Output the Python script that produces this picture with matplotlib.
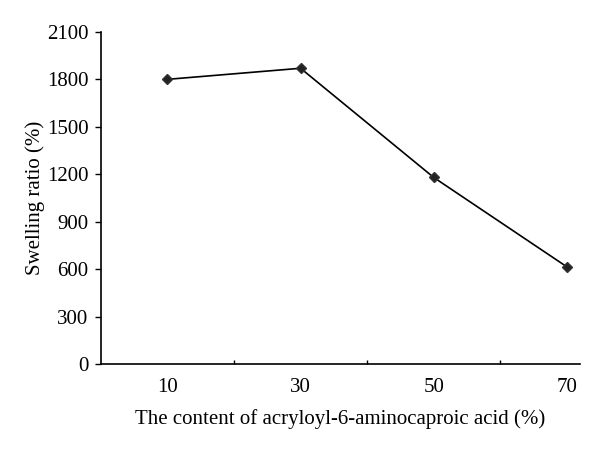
import numpy as np
import matplotlib.pyplot as plt

# Data
contents = ['10', '30', '50', '70']  # acryloyl-6-aminocaproic acid content (%)
swelling = [1800, 1870, 1180, 615]   # swelling ratio (%)

plt.rcParams['font.family'] = ['Liberation Serif', 'DejaVu Serif']

fig = plt.figure(figsize=(6, 4.49), dpi=100)
ax = fig.add_axes([0.168, 0.189, 0.799, 0.740])

x = np.arange(len(contents))
ax.plot(x, swelling, color='black', lw=1.2, marker='D', markersize=5,
        markerfacecolor='#222222', markeredgecolor='#333333')

ax.set_xlim(-0.5, 3.1)
ax.set_ylim(0, 2100)
ax.set_yticks(np.arange(0, 2101, 300))
ax.set_xticks(x)
ax.set_xticklabels(contents)
ax.set_xticks(x[:-1] + 0.5, minor=True)

ax.tick_params(axis='x', which='major', length=0, pad=10, labelsize=15)
ax.tick_params(axis='x', which='minor', direction='in', length=3, width=1)
ax.tick_params(axis='y', direction='out', length=4, width=1, pad=5, labelsize=15)

ax.spines['top'].set_visible(False)
ax.spines['right'].set_visible(False)
for s in ['left', 'bottom']:
    ax.spines[s].set_linewidth(1.2)

ax.set_xlabel('The content of acryloyl-6-aminocaproic acid (%)', fontsize=15, labelpad=9)
ax.set_ylabel('Swelling ratio (%)', fontsize=15, labelpad=1)

fig.savefig('out.png', dpi=100)
